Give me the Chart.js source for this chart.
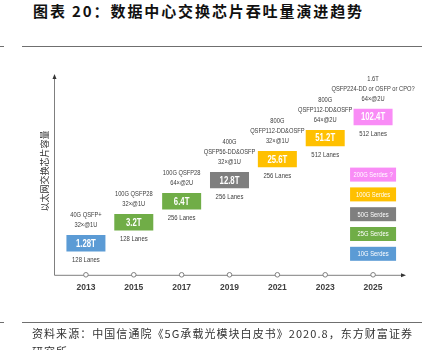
<!DOCTYPE html>
<html>
<head>
<meta charset="utf-8">
<script src="https://cdn.jsdelivr.net/npm/chart.js@4"></script>
<style>
  body { margin: 0; background: #fff; width: 434px; height: 350px; overflow: hidden; position: relative; }
  .title { position: absolute; left: 33px; top: 1px; font: bold 15px "Noto Sans CJK SC"; letter-spacing: 1.9px; color: #111; line-height: 20px; white-space: nowrap; }
  .rule { position: absolute; left: 22px; width: 400px; height: 1px; background: #6f6f6f; }
  .mark { position: absolute; left: 0; width: 4px; height: 1px; background: #6f6f6f; }
  .source { position: absolute; left: 32px; top: 324px; font: 11px "Noto Sans CJK SC"; letter-spacing: 1.05px; color: #333; line-height: 18px; white-space: nowrap; }
  canvas { position: absolute; left: 0; top: 0; }
</style>
</head>
<body>
<div class="title">图表 20：数据中心交换芯片吞吐量演进趋势</div>
<div class="mark" style="top:46px"></div>
<div class="rule" style="top:46px"></div>
<canvas id="chart" width="434" height="350"></canvas>
<div class="mark" style="top:322px"></div>
<div class="rule" style="top:322px"></div>
<div class="source">资料来源：中国信通院《5G承载光模块白皮书》2020.8，东方财富证券<br>研究所</div>

<script>
// 交换芯片容量演进
const years = ['2013', '2015', '2017', '2019', '2021', '2023', '2025'];
const capacity = ['1.28T', '3.2T', '6.4T', '12.8T', '25.6T', '51.2T', '102.4T'];
const boxLow = [-0.39, 0.61, 1.61, 2.61, 3.61, 4.61, 5.61];
const boxHigh = [0.39, 1.39, 2.39, 3.39, 4.39, 5.39, 6.39];
const modules = [
    ['40G QSFP+', '32×@1U'],
    ['100G QSFP28', '32×@1U'],
    ['100G QSFP28', '64×@2U'],
    ['400G', 'QSFP56-DD&OSFP', '32×@1U'],
    ['800G', 'QSFP112-DD&OSFP', '32×@1U'],
    ['800G', 'QSFP112-DD&OSFP', '64×@2U'],
    ['1.6T', 'QSFP224-DD or OSFP or CPO?', '64×@2U']
];
const lanes = ['128 Lanes', '128 Lanes', '256 Lanes', '256 Lanes', '256 Lanes', '512 Lanes', '512 Lanes'];
const serdes = ['10G Serdes', '25G Serdes', '25G Serdes', '50G Serdes', '100G Serdes', '100G Serdes', '200G Serdes ?'];
const legendItems = ['10G Serdes', '25G Serdes', '50G Serdes', '100G Serdes', '200G Serdes ?'];
const axisMarks = [-1.5, -1.5, -1.5, -1.5, -1.5, -1.5, -1.5];

const serdesColors = {
    '10G Serdes': '#5b9bd5',
    '25G Serdes': '#70ad47',
    '50G Serdes': '#7f7f7f',
    '100G Serdes': '#ffc000',
    '200G Serdes ?': '#f98cf6'
};

const sans = '"Liberation Sans", Arial, sans-serif';
const textColor = '#404040';
const axisColor = '#7f7f7f';

// 窄体文字：横向压缩
function narrowText(ctx, txt, x, y, sx) {
    ctx.save();
    ctx.translate(x, y);
    ctx.scale(sx, 1);
    ctx.fillText(txt, 0, 0);
    ctx.restore();
}

const decorations = {
    id: 'decorations',
    beforeDatasetsDraw(chart) {
        const { ctx, chartArea } = chart;
        const left = chartArea.left - 8, right = chartArea.right + 8;
        const top = chartArea.top, bottom = chartArea.bottom;
        ctx.save();
        ctx.strokeStyle = axisColor;
        ctx.fillStyle = '#333';
        ctx.lineWidth = 1;
        ctx.beginPath();
        ctx.moveTo(left + 0.5, top + 3);
        ctx.lineTo(left + 0.5, bottom + 0.5);
        ctx.lineTo(right - 3, bottom + 0.5);
        ctx.stroke();
        // 箭头
        ctx.beginPath();
        ctx.moveTo(left + 0.5, top - 1);
        ctx.lineTo(left - 1.5, top + 4);
        ctx.lineTo(left + 2.5, top + 4);
        ctx.fill();
        ctx.beginPath();
        ctx.moveTo(right + 1, bottom + 0.5);
        ctx.lineTo(right - 4, bottom - 1.5);
        ctx.lineTo(right - 4, bottom + 2.5);
        ctx.fill();

        // 纵轴标题
        ctx.save();
        ctx.translate(left - 9, (top + bottom) / 2 - 4);
        ctx.rotate(-Math.PI / 2);
        ctx.fillStyle = '#333';
        ctx.font = '9px "Noto Sans CJK SC"';
        ctx.textAlign = 'center';
        ctx.textBaseline = 'middle';
        ctx.fillText('以太网交换芯片容量', 0, 0);
        ctx.restore();
        ctx.restore();
    },
    afterDatasetsDraw(chart) {
        const { ctx, chartArea } = chart;
        const meta = chart.getDatasetMeta(0);
        ctx.save();
        ctx.textAlign = 'center';
        ctx.textBaseline = 'middle';
        meta.data.forEach((bar, i) => {
            const topY = Math.min(bar.y, bar.base);
            const botY = Math.max(bar.y, bar.base);
            ctx.fillStyle = '#fff';
            ctx.font = 'bold 10.5px ' + sans;
            narrowText(ctx, capacity[i], bar.x, (topY + botY) / 2 + 0.5, 0.74);

            ctx.fillStyle = textColor;
            ctx.font = '7px ' + sans;
            const lines = modules[i];
            lines.forEach((txt, j) => {
                narrowText(ctx, txt, bar.x, topY - 10 - (lines.length - 1 - j) * 10, 0.82);
            });
            narrowText(ctx, lanes[i], bar.x, botY + 9, 0.85);
        });

        // 图例
        const cx = chart.scales.x.getPixelForValue(years.length - 1);
        legendItems.forEach((name, i) => {
            const y = chartArea.bottom - 28 - i * 19.8;
            ctx.fillStyle = serdesColors[name];
            ctx.fillRect(cx - 23, y, 46, 14);
            ctx.fillStyle = '#fff';
            ctx.font = '7px ' + sans;
            narrowText(ctx, name, cx, y + 7.5, 0.83);
        });
        ctx.restore();
    }
};

new Chart(document.getElementById('chart'), {
    type: 'bar',
    data: {
        labels: years,
        datasets: [
            {
                data: boxLow.map((v, i) => [v, boxHigh[i]]),
                backgroundColor: serdes.map(s => serdesColors[s]),
                borderWidth: 0,
                barPercentage: 0.815,
                categoryPercentage: 1
            },
            {
                type: 'line',
                data: axisMarks,
                showLine: false,
                pointRadius: 2.3,
                pointBorderWidth: 1,
                pointBorderColor: axisColor,
                pointBackgroundColor: '#fff',
                clip: false
            }
        ]
    },
    options: {
        responsive: false,
        animation: false,
        devicePixelRatio: 1,
        layout: { padding: { left: 62, right: 37, top: 75, bottom: 49 } },
        plugins: { legend: { display: false }, tooltip: { enabled: false } },
        scales: {
            x: {
                offset: true,
                grid: { display: false, drawTicks: false },
                border: { display: false },
                ticks: { padding: 8, color: textColor, font: { family: sans, size: 8.5, weight: 'bold' } }
            },
            y: { display: false, min: -1.5, max: 8 }
        }
    },
    plugins: [decorations]
});
</script>
</body>
</html>
